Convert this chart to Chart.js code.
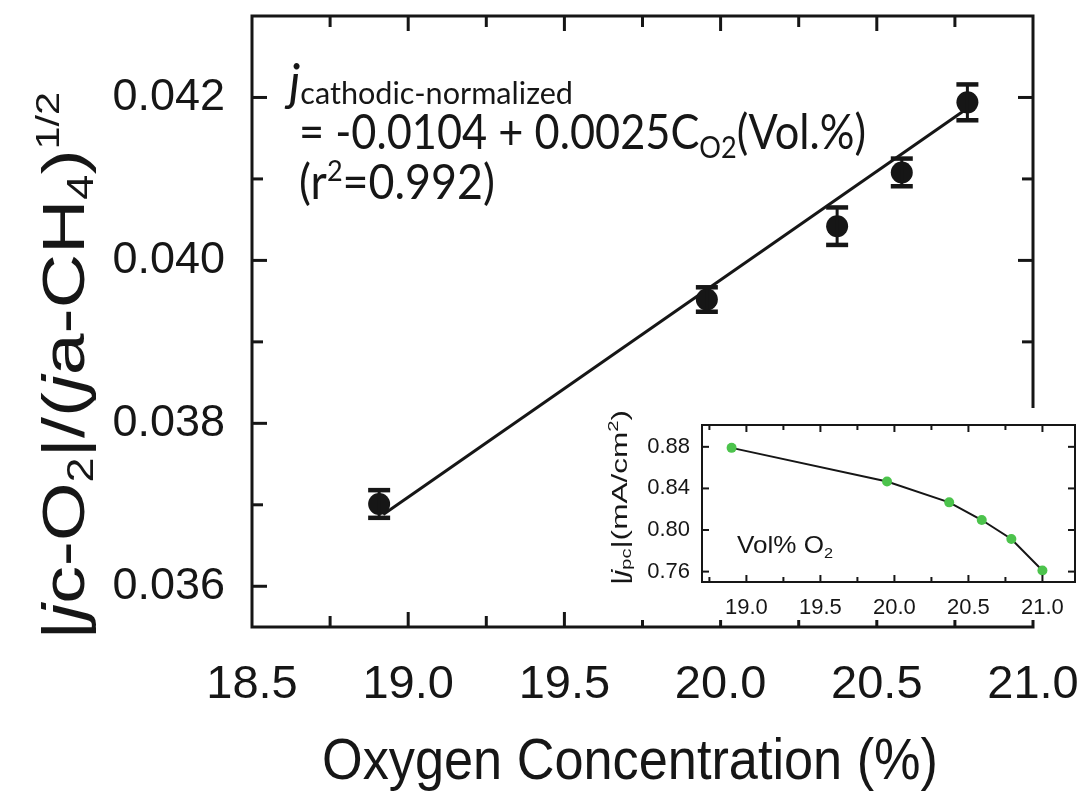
<!DOCTYPE html>
<html><head><meta charset="utf-8">
<script src="https://cdn.jsdelivr.net/npm/chart.js@4.4.0/dist/chart.umd.min.js"></script>
<style>
html,body{margin:0;padding:0;background:#fff;}
#wrap{position:relative;width:1083px;height:801px;overflow:hidden;}
#main{position:absolute;left:0;top:0;}
#inset{position:absolute;left:585px;top:400px;}
</style></head><body>
<div id="wrap">
<canvas id="main" width="1083" height="801"></canvas>
<canvas id="inset" width="498" height="220"></canvas>
</div>
<script>
// ---- main panel data ----
const o2Conc   = [18.907, 19.956, 20.373, 20.58, 20.79];
const jNorm    = [0.03701, 0.03952, 0.04042, 0.04108, 0.04194];
const jNormErr = [0.00017, 0.00015, 0.00023, 0.00017, 0.00022];
const fitX = [18.92, 20.78];
const fitY = [0.03688, 0.04184];
const mainXLabels = [18.5, 19.0, 19.5, 20.0, 20.5, 21.0];
const mainYLabels = [0.036, 0.038, 0.040, 0.042];
// ---- inset data ----
const insetConc = [18.9, 19.95, 20.37, 20.59, 20.79, 21.0];
const insetJpc  = [0.879, 0.8467, 0.8266, 0.8096, 0.7914, 0.761];
const insetXLabels = [19.0, 19.5, 20.0, 20.5, 21.0];
const insetYLabels = [0.76, 0.80, 0.84, 0.88];

const has = (arr, v) => arr.some(a => Math.abs(a - v) < 1e-7);
const INK = '#161616';

function fontStr(r, fam) {
  return (r.it ? 'italic ' : '') + r.s + 'px ' + (r.f || fam);
}
function drawRuns(ctx, runs, x, y, o) {
  ctx.save();
  ctx.translate(x, y);
  if (o.rotate) ctx.rotate(o.rotate);
  let total = 0;
  const ws = runs.map(r => { ctx.font = fontStr(r, o.family); const w = ctx.measureText(r.t).width; total += w; return w; });
  const sx = o.target ? o.target / total : 1;
  ctx.scale(sx, 1);
  ctx.fillStyle = o.color || INK;
  ctx.textBaseline = 'alphabetic';
  ctx.textAlign = 'left';
  let cx = 0;
  runs.forEach((r, i) => { ctx.font = fontStr(r, o.family); ctx.fillText(r.t, cx, r.dy || 0); cx += ws[i]; });
  ctx.restore();
}
function fixBox(s, w, h) {
  if (w !== undefined) s.width = w;
  if (h !== undefined) s.height = h;
  s.paddingLeft = 0; s.paddingRight = 0; s.paddingTop = 0; s.paddingBottom = 0;
}

function framePlugin(o) {
  return {
    id: 'frame',
    afterDraw(chart) {
      const { ctx, chartArea: a } = chart;
      const xs = chart.scales.x, ys = chart.scales.y;
      ctx.save();
      ctx.strokeStyle = INK;
      ctx.lineWidth = o.tickW;
      const ln = (x1, y1, x2, y2) => { ctx.beginPath(); ctx.moveTo(x1, y1); ctx.lineTo(x2, y2); ctx.stroke(); };
      xs.ticks.forEach(t => {
        const p = xs.getPixelForValue(t.value);
        if (p < a.left + 2 || p > a.right - 2) return;
        const L = has(o.xMajor, t.value) ? o.major : o.minor;
        ln(p, a.bottom, p, a.bottom - L);
        ln(p, a.top, p, a.top + L);
      });
      ys.ticks.forEach(t => {
        const p = ys.getPixelForValue(t.value);
        if (p < a.top + 2 || p > a.bottom - 2) return;
        const L = has(o.yMajor, t.value) ? o.major : o.minor;
        ln(a.left, p, a.left + L, p);
        ln(a.right, p, a.right - L, p);
      });
      ctx.lineWidth = o.frameW;
      ctx.strokeRect(a.left, a.top, a.right - a.left, a.bottom - a.top);
      ctx.restore();
    }
  };
}

const errorBars = {
  id: 'errorBars',
  afterDatasetsDraw(chart) {
    const { ctx } = chart;
    const xs = chart.scales.x, ys = chart.scales.y;
    ctx.save();
    ctx.strokeStyle = INK;
    o2Conc.forEach((x, i) => {
      const px = xs.getPixelForValue(x);
      const top = ys.getPixelForValue(jNorm[i] + jNormErr[i]);
      const bot = ys.getPixelForValue(jNorm[i] - jNormErr[i]);
      ctx.lineWidth = 3;
      ctx.beginPath(); ctx.moveTo(px, top); ctx.lineTo(px, bot); ctx.stroke();
      ctx.lineWidth = 4.5;
      ctx.beginPath(); ctx.moveTo(px - 11, top); ctx.lineTo(px + 11, top); ctx.stroke();
      ctx.beginPath(); ctx.moveTo(px - 11, bot); ctx.lineTo(px + 11, bot); ctx.stroke();
    });
    ctx.restore();
  }
};

const mainText = {
  id: 'mainText',
  afterDraw(chart) {
    const ctx = chart.ctx;
    const ann = '"Lato", "Open Sans", sans-serif';
    drawRuns(ctx, [{ t: 'j', s: 50, it: true }, { t: 'cathodic-normalized', s: 31, dy: 4 }], 289, 100, { family: ann, target: 284 });
    drawRuns(ctx, [{ t: '= -0.0104 + 0.0025C', s: 48 }, { t: 'O2', s: 30, dy: 9 }, { t: '(Vol.%)', s: 48 }], 299, 149, { family: ann, target: 567 });
    drawRuns(ctx, [{ t: '(r', s: 48 }, { t: '2', s: 29, dy: -18 }, { t: '=0.992)', s: 48 }], 299, 199, { family: ann, target: 196 });
    const ar = '"Liberation Sans", Arial, sans-serif';
    drawRuns(ctx, [{ t: 'Oxygen Concentration (%)', s: 57 }], 322, 779, { family: ar, target: 616 });
    drawRuns(ctx, [
      { t: '|', s: 60 }, { t: 'j', s: 60, it: true }, { t: 'c-O', s: 60 }, { t: '2', s: 36, dy: 9 },
      { t: '|/(', s: 60 }, { t: 'j', s: 60, it: true }, { t: 'a-CH', s: 60 }, { t: '4', s: 36, dy: 9 },
      { t: ')', s: 60 }, { t: '1/2', s: 33, dy: -25 }
    ], 84, 640, { family: ar, rotate: -Math.PI / 2, target: 548 });
  }
};

const tickFontMainX = { family: '"Liberation Sans", Arial, sans-serif', size: 47 };
const tickFontMainY = { family: '"Liberation Sans", Arial, sans-serif', size: 45 };

new Chart(document.getElementById('main'), {
  type: 'scatter',
  data: {
    datasets: [
      {
        data: o2Conc.map((x, i) => ({ x, y: jNorm[i] })),
        pointRadius: 11, pointBackgroundColor: INK, pointBorderWidth: 0, showLine: false, order: 1
      },
      {
        data: fitX.map((x, i) => ({ x, y: fitY[i] })),
        showLine: true, pointRadius: 0, borderColor: INK, borderWidth: 3, fill: false, order: 2
      }
    ]
  },
  options: {
    responsive: false, animation: false, events: [],
    layout: { padding: { left: 0, top: 16, right: 50, bottom: 0 } },
    plugins: { legend: { display: false }, tooltip: { enabled: false } },
    scales: {
      x: {
        type: 'linear', min: 18.5, max: 21.0,
        grid: { display: false, drawTicks: false }, border: { display: false },
        ticks: {
          stepSize: 0.25, autoSkip: false, includeBounds: false, maxRotation: 0, padding: 30, color: INK, font: tickFontMainX,
          callback: v => has(mainXLabels, v) ? v.toFixed(1) : ''
        },
        afterFit: s => fixBox(s, undefined, 174)
      },
      y: {
        type: 'linear', min: 0.0355, max: 0.043,
        grid: { display: false, drawTicks: false }, border: { display: false },
        ticks: {
          stepSize: 0.001, autoSkip: false, includeBounds: false, padding: 27, color: INK, font: tickFontMainY,
          callback: v => has(mainYLabels, v) ? v.toFixed(3) : ''
        },
        afterFit: s => fixBox(s, 252, undefined)
      }
    }
  },
  plugins: [framePlugin({ tickW: 3, frameW: 3, major: 15, minor: 11, xMajor: mainXLabels, yMajor: mainYLabels }), errorBars, mainText]
});

// ---- inset ----
const insetBg = {
  id: 'insetBg',
  beforeDraw(chart) {
    const c = chart.ctx;
    c.save(); c.fillStyle = '#fff'; c.fillRect(0, 8, chart.width, chart.height - 8); c.restore();
  }
};
const insetText = {
  id: 'insetText',
  afterDraw(chart) {
    const ctx = chart.ctx;
    const ar = '"Liberation Sans", Arial, sans-serif';
    drawRuns(ctx, [{ t: 'Vol% O', s: 24 }, { t: '2', s: 15, dy: 5 }], 152, 153, { family: ar, target: 96 });
    drawRuns(ctx, [
      { t: '|', s: 22 }, { t: 'j', s: 22, it: true }, { t: 'pc', s: 14, dy: 4 },
      { t: '|(mA/cm', s: 22 }, { t: '2', s: 14, dy: -9 }, { t: ')', s: 22 }
    ], 42, 185, { family: ar, rotate: -Math.PI / 2, target: 175 });
  }
};
const tickFontInset = { family: '"Liberation Sans", Arial, sans-serif', size: 22 };

new Chart(document.getElementById('inset'), {
  type: 'scatter',
  data: {
    datasets: [{
      data: insetConc.map((x, i) => ({ x, y: insetJpc[i] })),
      showLine: true, borderColor: INK, borderWidth: 2, tension: 0,
      pointRadius: 5, pointBackgroundColor: '#4cc34c', pointBorderWidth: 0
    }]
  },
  options: {
    responsive: false, animation: false, events: [],
    layout: { padding: { left: 0, top: 25, right: 8, bottom: 0 } },
    plugins: { legend: { display: false }, tooltip: { enabled: false } },
    scales: {
      x: {
        type: 'linear', min: 18.7, max: 21.22,
        grid: { display: false, drawTicks: false }, border: { display: false },
        ticks: {
          stepSize: 0.25, autoSkip: false, includeBounds: false, maxRotation: 0, padding: 13, color: INK, font: tickFontInset,
          callback: v => has(insetXLabels, v) ? v.toFixed(1) : ''
        },
        afterFit: s => fixBox(s, undefined, 38)
      },
      y: {
        type: 'linear', min: 0.75, max: 0.901,
        grid: { display: false, drawTicks: false }, border: { display: false },
        ticks: {
          stepSize: 0.04, autoSkip: false, includeBounds: false, padding: 12, color: INK, font: tickFontInset,
          callback: v => has(insetYLabels, v) ? v.toFixed(2) : ''
        },
        afterFit: s => fixBox(s, 117, undefined)
      }
    }
  },
  plugins: [insetBg, framePlugin({ tickW: 2, frameW: 2, major: 7, minor: 5, xMajor: insetXLabels, yMajor: insetYLabels }), insetText]
});
</script>
</body></html>
